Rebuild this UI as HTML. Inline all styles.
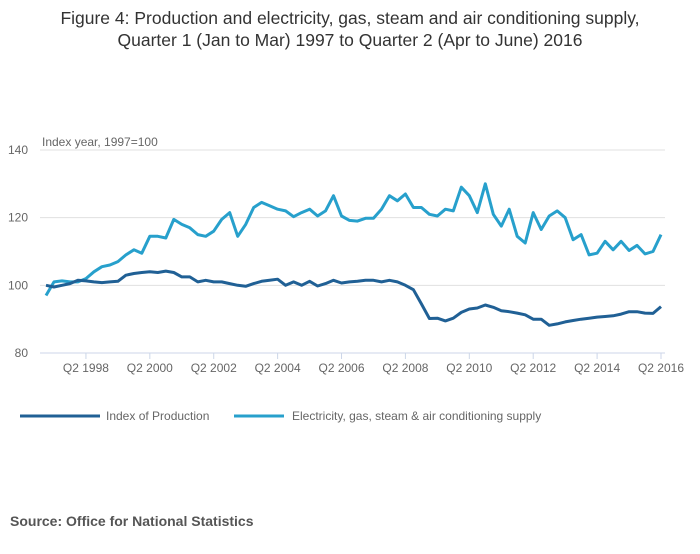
<!DOCTYPE html>
<html><head><meta charset="utf-8"><style>
body{margin:0;background:#fff;font-family:"Liberation Sans",sans-serif;}
</style></head><body>
<svg width="700" height="549" xmlns="http://www.w3.org/2000/svg" font-family="Liberation Sans, sans-serif">
<text x="350" y="24" text-anchor="middle" font-size="17.5" fill="#333">Figure 4: Production and electricity, gas, steam and air conditioning supply,</text>
<text x="350" y="46" text-anchor="middle" font-size="17.5" fill="#333">Quarter 1 (Jan to Mar) 1997 to Quarter 2 (Apr to June) 2016</text>
<text x="42" y="146" font-size="12" fill="#666">Index year, 1997=100</text>
<g id="grid"></g><g id="xaxis"></g><g id="series"></g>
<g>
<line x1="20" y1="416" x2="100" y2="416" stroke="#206095" stroke-width="3"/>
<text x="106" y="420" font-size="12" fill="#666">Index of Production</text>
<line x1="234" y1="416" x2="284" y2="416" stroke="#27a0cc" stroke-width="3"/>
<text x="292" y="420" font-size="12" fill="#666">Electricity, gas, steam &amp; air conditioning supply</text>
</g>
<text x="10" y="526" font-size="14" font-weight="bold" fill="#555">Source: Office for National Statistics</text>
</svg>
<script>
const yTicks=[80,100,120,140];
const xTickLabels=["Q2 1998","Q2 2000","Q2 2002","Q2 2004","Q2 2006","Q2 2008","Q2 2010","Q2 2012","Q2 2014","Q2 2016"];
const production=[100,99.5,100,100.5,101.5,101.3,101,100.8,101,101.2,103,103.5,103.8,104,103.8,104.2,103.8,102.5,102.5,101,101.5,101,101,100.5,100,99.7,100.5,101.2,101.5,101.8,100,101,100,101.2,99.8,100.5,101.5,100.7,101,101.2,101.5,101.5,101,101.5,101,100,98.7,94.5,90.2,90.3,89.5,90.3,92,93,93.3,94.2,93.5,92.5,92.2,91.8,91.3,90,90,88.2,88.6,89.2,89.6,90,90.3,90.6,90.8,91,91.5,92.2,92.2,91.8,91.7,93.7];
const electricity=[97,101,101.3,101,101,102,104,105.5,106,107,109,110.5,109.5,114.5,114.5,114,119.5,118,117,115,114.5,116,119.5,121.5,114.5,118,123,124.5,123.5,122.5,122,120.3,121.5,122.5,120.5,122,126.5,120.5,119.2,119,119.8,119.8,122.5,126.5,125,127,123,123,121,120.5,122.5,122,129,126.5,121.5,130,121,117.5,122.5,114.5,112.5,121.5,116.5,120.5,122,120,113.5,115,109,109.5,113,110.5,113,110.3,111.8,109.3,110,115];
const NS="http://www.w3.org/2000/svg";
const x=i=>46+i*(615/77);
const y=v=>353-(v-80)*(203/60);
const grid=document.getElementById('grid');
yTicks.forEach(t=>{
 const l=document.createElementNS(NS,'line');
 l.setAttribute('x1',40);l.setAttribute('x2',665);l.setAttribute('y1',y(t));l.setAttribute('y2',y(t));
 l.setAttribute('stroke',t===80?'#ccd6e8':'#e0e0e0');l.setAttribute('stroke-width',1);
 
 
 grid.appendChild(l);
 const tx=document.createElementNS(NS,'text');
 tx.setAttribute('x',28);tx.setAttribute('y',y(t)+4);tx.setAttribute('text-anchor','end');
 tx.setAttribute('font-size','12');tx.setAttribute('fill','#666');tx.textContent=t;
 
 
 grid.appendChild(tx);
});
const xa=document.getElementById('xaxis');
xTickLabels.forEach((lab,k)=>{
 const xi=x(5+k*8);
 const l=document.createElementNS(NS,'line');
 l.setAttribute('x1',xi);l.setAttribute('x2',xi);l.setAttribute('y1',353);l.setAttribute('y2',359);
 l.setAttribute('stroke','#ccd6e8');
 
 
 xa.appendChild(l);
 const tx=document.createElementNS(NS,'text');
 tx.setAttribute('x',xi);tx.setAttribute('y',372);tx.setAttribute('text-anchor','middle');
 tx.setAttribute('font-size','12');tx.setAttribute('fill','#666');tx.textContent=lab;
 
 
 xa.appendChild(tx);
});
const sg=document.getElementById('series');
function line(data,color,name){
 const p=document.createElementNS(NS,'path');
 p.setAttribute('d',data.map((v,i)=>(i?'L':'M')+x(i).toFixed(1)+','+y(v).toFixed(1)).join(''));
 p.setAttribute('fill','none');p.setAttribute('stroke',color);p.setAttribute('stroke-width',3);
 p.setAttribute('stroke-linejoin','round');
 
 
 sg.appendChild(p);
}
line(electricity,'#27a0cc','electricity-line');
line(production,'#206095','production-line');
</script>
</body></html>
